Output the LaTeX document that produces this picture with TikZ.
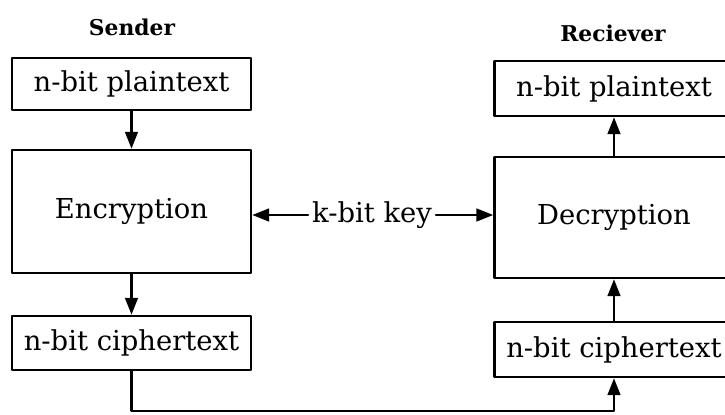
\documentclass[tikz,border=0pt]{standalone}
\usepackage{fontspec}
\setmainfont{DejaVu Serif}
\usetikzlibrary{arrows.meta}
\begin{document}
\begin{tikzpicture}[x=0.025cm,y=-0.025cm,font=\fontsize{19.5}{22}\selectfont, line join=round, line cap=round, line width=1.7pt, >={Triangle[length=12pt,width=9pt]},
	box/.style={draw,minimum width=\w,inner sep=0pt}]
	\def\w{5.975cm}
	\useasboundingbox(0,0)rectangle(725,415);
	\clip(0,0)rectangle(725,415);
	% sender side
	\node[font=\fontsize{15.5}{18}\selectfont\bfseries](sender) at (132,27){Sender};
	\node[box,minimum height=1.3cm](ptL) at (131.5,84){n-bit plaintext};
	\node[box,minimum height=3.075cm](enc) at (131.5,211.5){Encryption};
	\node[box,minimum height=1.35cm](ctL) at (131.5,343){n-bit ciphertext};
	% receiver side
	\node[font=\fontsize{15.5}{18}\selectfont\bfseries](rcv) at (613,33){Reciever};
	\node[box,minimum height=1.375cm](ptR) at (614,88.5){n-bit plaintext};
	\node[box,minimum height=3.025cm](dec) at (614,217.5){Decryption};
	\node[box,minimum height=1.375cm](ctR) at (614,349.5){n-bit ciphertext};
	\node[inner sep=2pt](key) at (372,215){k-bit key};
	\foreach \s/\t in{ptL/enc,enc/ctL,dec/ptR,ctR/dec}
	\draw[->](\s)--(\t);
	\draw[->](key.west)--(key.west-|enc.east);
	\draw[->](key.east)--(key.east-|dec.west);
	\draw[->](ctL.south)--++(0,40)-|(ctR.south);
\end{tikzpicture}
\end{document}
